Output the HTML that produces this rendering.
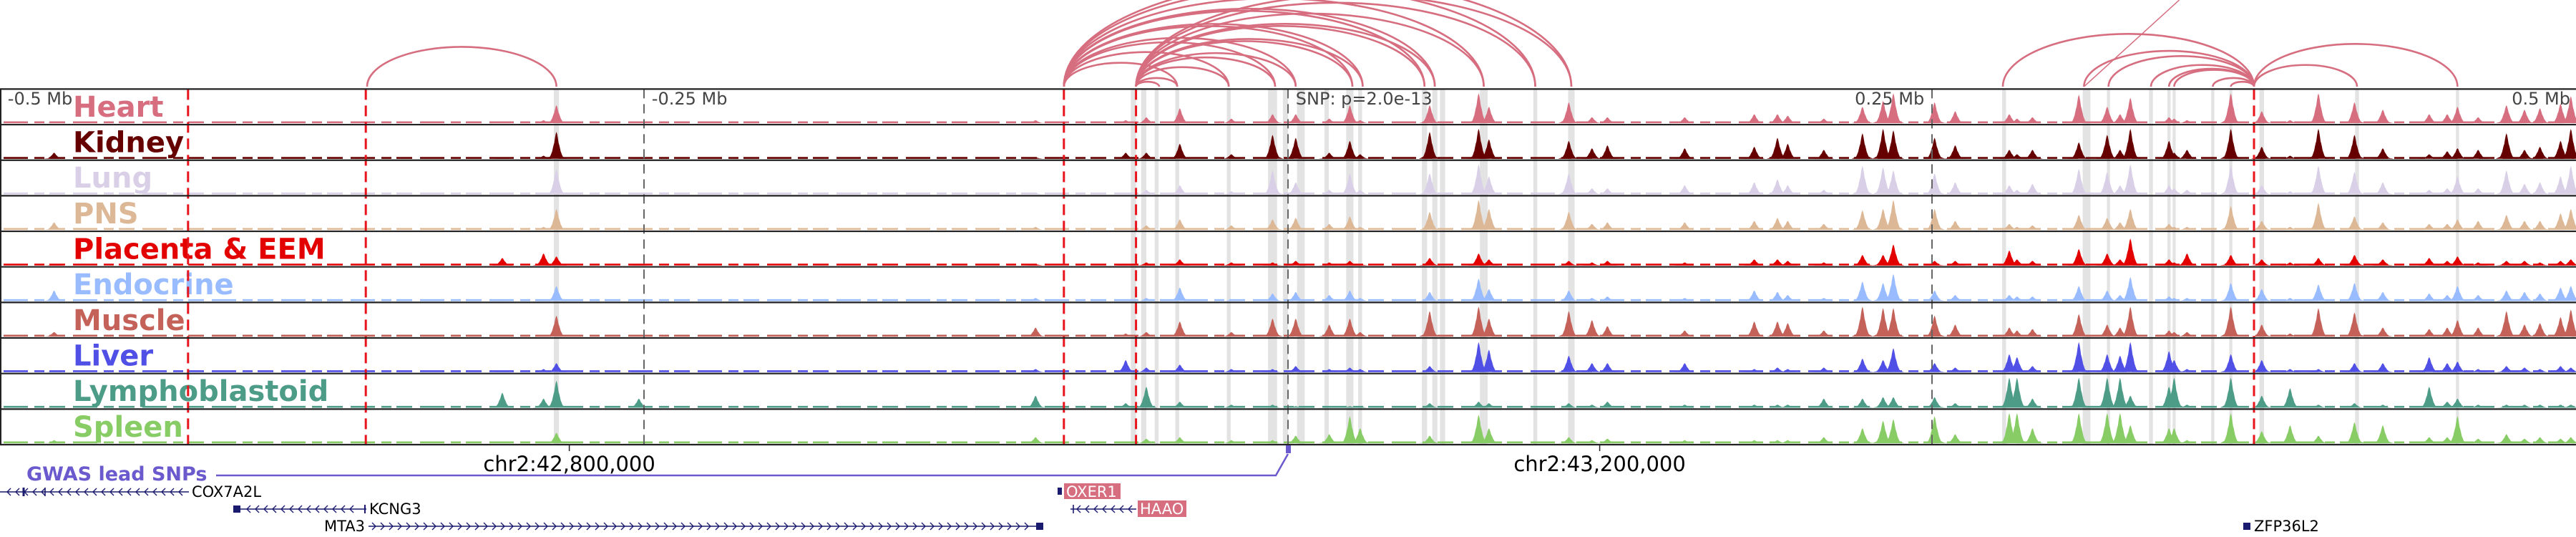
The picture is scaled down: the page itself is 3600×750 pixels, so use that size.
<!DOCTYPE html>
<html><head><meta charset="utf-8">
<style>
html,body{margin:0;padding:0;background:#fff;}
svg{display:block;}
text{font-family:"DejaVu Sans","Liberation Sans",sans-serif;}
</style></head>
<body>
<svg id="chart" width="3600" height="750" viewBox="0 0 3600 750" xmlns="http://www.w3.org/2000/svg">
<g id="bands"></g>
<g id="signals"></g>
<g id="labels"></g>
<g id="vlines"></g>
<g id="borders"></g>
<g id="arcs"></g>
<g id="bottom"></g>
</svg>
<script>
// ---- data ----
const tissues = ["Heart","Kidney","Lung","PNS","Placenta & EEM","Endocrine","Muscle","Liver","Lymphoblastoid","Spleen"];
const tissueColors = ["#d66e80","#660000","#d9d0e8","#ddb896","#e30000","#99bbff","#c4625a","#5050e6","#4d9c88","#88cc66"];
const peakKb = [-479,-305,-289,-284,-252,-98,-63,-55,-42,-22,-6,3,16,24,28,55,74,78,109,118,124,154,181,190,194,208,223,231,235,251,259,280,283,289,307,318,323,327,342,344,349,366,378,389,400,414,425,443,450,454,462,473,480,486,494,498];
const heart = [.05,.05,.1,.6,.05,.1,.1,.2,.5,.15,.3,.3,.15,.6,.1,.6,1,.55,.7,.2,.2,.2,.3,.3,.25,.15,.55,.75,1,.7,.4,.3,.15,.2,.95,.55,.3,.85,.2,.15,.1,1,.4,.1,1,.7,.45,.3,.3,.55,.2,.6,.45,.5,.65,.9];
const kidney = [.2,.05,.1,.9,.05,.05,.2,.2,.5,.15,.8,.7,.2,.6,.15,.9,1,.65,.6,.35,.45,.35,.4,.7,.5,.3,.85,1,.95,.7,.45,.3,.15,.3,.55,.8,.3,1,.6,.2,.3,1,.4,.1,1,.8,.35,.15,.25,.35,.3,.85,.3,.4,.6,1];
const lung = [.05,.02,.05,.85,.02,.05,.05,.15,.3,.1,.8,.4,.15,.7,.15,.7,1,.6,.7,.2,.2,.3,.4,.5,.3,.15,.95,.9,.8,.7,.4,.3,.15,.35,.85,.75,.3,1,.3,.2,.15,.95,.3,.1,.95,.75,.4,.15,.2,.6,.2,.8,.35,.4,.6,.95];
const pns = [.25,.05,.1,.7,.05,.1,.05,.15,.35,.15,.35,.4,.2,.45,.1,.6,1,.7,.6,.2,.25,.25,.3,.4,.3,.2,.65,.7,1,.7,.3,.2,.1,.15,.5,.4,.25,.7,.2,.1,.1,.8,.3,.1,.9,.45,.25,.2,.2,.35,.3,.5,.3,.3,.55,.7];
const placenta = [.05,.25,.4,.3,.05,.05,.05,.1,.2,.1,.1,.15,.1,.15,.05,.25,.4,.2,.15,.1,.15,.1,.2,.2,.15,.1,.35,.35,.7,.15,.15,.5,.2,.15,.55,.4,.2,.9,.2,.1,.4,.35,.2,.1,.25,.35,.2,.25,.15,.3,.1,.15,.15,.1,.15,.2];
const endocrine = [.35,.02,.05,.5,.05,.1,.05,.1,.45,.05,.25,.3,.2,.35,.1,.3,.75,.4,.35,.1,.15,.1,.35,.3,.2,.1,.65,.6,.9,.35,.2,.2,.15,.15,.5,.35,.2,.8,.15,.1,.1,.6,.4,.1,.55,.6,.3,.25,.2,.5,.2,.35,.3,.25,.45,.5];
const muscle = [.15,.02,.05,.7,.05,.3,.1,.15,.5,.15,.6,.6,.4,.6,.15,.85,1,.6,.85,.55,.35,.2,.5,.5,.45,.2,1,.95,.95,.7,.4,.3,.2,.25,.75,.4,.3,1,.2,.15,.15,1,.4,.1,.95,.8,.3,.25,.3,.55,.3,.85,.4,.45,.65,.9];
const liver = [.05,.05,.1,.3,.05,.1,.4,.15,.25,.1,.1,.2,.1,.15,.1,.2,1,.75,.55,.3,.3,.3,.1,.15,.1,.15,.45,.4,.8,.3,.15,.6,.5,.2,1,.6,.55,1,.7,.4,.1,.6,.4,.1,.1,.3,.3,.5,.3,.35,.1,.2,.15,.1,.2,.15];
const lympho = [.05,.5,.3,.9,.3,.4,.15,.7,.2,.1,.1,.05,.05,.05,.05,.15,.2,.15,.15,.1,.2,.1,.1,.1,.1,.3,.3,.35,.35,.35,.15,1,1,.3,1,1,1,.4,.7,1,.1,1,.4,.65,.1,.15,.1,.7,.2,.3,.1,.1,.1,.1,.1,.1];
const spleen = [.1,.02,.05,.35,.05,.2,.05,.15,.2,.1,.1,.25,.3,.9,.5,.25,.95,.5,.2,.1,.15,.1,.1,.1,.1,.2,.5,.75,.8,.9,.3,1,1,.5,1,1,1,.6,.5,.5,.1,1,.4,.6,.25,.7,.6,.2,.2,.9,.15,.3,.15,.2,.15,.2];
const bandKb = [-284,-60,-56,-51,-43,-23,-6,-1,5,15,24,28,53,57,60,76,96,110,278,310,318.5,335,342,344,359,366,378,415,454];
const bandWidthKb = [2,2,2,1.5,1.5,1.5,3.5,2,3,1.7,2.8,1.5,2,2,2,3,1.5,2.5,1.5,3,1.2,1.5,1.2,1.2,1.2,1.2,1.8,1.5,1.2];
const redLineKb = [-427,-358,-87,-59,375];
const greyLineKb = [-250,0,250];
const axisLabels = ["-0.5 Mb","-0.25 Mb","SNP: p=2.0e-13","0.25 Mb","0.5 Mb"];
const axisLabelKb = [-497,-247,3,247,497];
const arcStartKb = [-357.5,-87,-87,-87,-87,-87,-87,-87,-87,-87,-87,-87,-59,-59,-59,-59,-59,-59,-59,-59,-59,-59,-59,-59,375,375,375,375,375,375,375,375,375,375];
const arcEndKb = [-284,-43,-23,-5,3,25,29,53,57,76,96,110,-50,-43,-23,-5,3,25,29,53,57,76,96,110,277.5,309,318.5,335,342,344,359,366,415,454];
const chrTickKb = [-279,121];
const chrTickLabels = ["chr2:42,800,000","chr2:43,200,000"];

// ---- scales ----
const PX_PER_KB = 3.6, ORIGIN = 1800;
const xs = kb => ORIGIN + kb * PX_PER_KB;
const TOP = 124.4, TH = 49.66;
const series = [heart,kidney,lung,pns,placenta,endocrine,muscle,liver,lympho,spleen];
const NS = "http://www.w3.org/2000/svg";
function mk(tag, attrs, parent){const e=document.createElementNS(NS,tag);for(const k in attrs)e.setAttribute(k,attrs[k]);parent.appendChild(e);return e;}

// bands
const gB = document.getElementById('bands');
bandKb.forEach((kb,i)=>{
  const w = bandWidthKb[i]*PX_PER_KB;
  const r = mk('rect',{x:xs(kb)-w/2,y:TOP,width:w,height:TH*10,fill:'#e3e3e3'},gB);
  
  
});

// signals
const gS = document.getElementById('signals');
const HW = 15;
series.forEach((vals,t)=>{
  const base = TOP + (t+1)*TH - 2;
  const g = mk('g',{fill:tissueColors[t]},gS);
  
  
  const bl = mk('line',{x1:5,x2:3598,y1:base-1.2,y2:base-1.2,stroke:tissueColors[t],'stroke-width':2.6,'stroke-dasharray':'34 9 14 7 22 11'},g);
  
  
  peakKb.forEach((kb,i)=>{
    const v = vals[i]||0; if(v<=0) return;
    const cx = xs(kb), h = v*45;
    let pts = [];
    for(let dx=-HW; dx<=HW; dx+=1){
      const a = Math.abs(dx)/HW;
      const f = Math.max(0, 0.82*Math.pow(Math.max(0,1-a*1.6),1.6) + 0.18*(1-a)) * (dx%3===0?0.93:1);
      pts.push((cx+dx).toFixed(1)+','+(base - h*f).toFixed(1));
    }
    pts.push((cx+HW)+','+base); pts.unshift((cx-HW)+','+base);
    const p = mk('polygon',{points:pts.join(' ')},g);
    
    
  });
});

// labels
const gL = document.getElementById('labels');
tissues.forEach((n,t)=>{
  const tx = mk('text',{x:102,y:TOP+t*TH+38.5,'font-size':40,'font-weight':'bold',fill:tissueColors[t]},gL);
  tx.textContent = n;
  
  
});

// vertical lines
const gV = document.getElementById('vlines');
greyLineKb.forEach(kb=>{
  const l = mk('line',{x1:xs(kb),x2:xs(kb),y1:TOP,y2:TOP+TH*10,stroke:'#666','stroke-width':2,'stroke-dasharray':'13 8'},gV);
  
  
});
redLineKb.forEach(kb=>{
  const l = mk('line',{x1:xs(kb),x2:xs(kb),y1:TOP,y2:TOP+TH*10,stroke:'#e8141c','stroke-width':3,'stroke-dasharray':'15 8'},gV);
  
  
});
axisLabels.forEach((s,i)=>{
  const x = xs(axisLabelKb[i]);
  const anchor = (i===3||i===4)?'end':'start';
  const tx = mk('text',{x: i===4?3592:x,y:146,'font-size':24,fill:'#444','text-anchor':anchor},gV);
  tx.textContent = s;
  
  
});

// borders
const gBo = document.getElementById('borders');
for(let t=0;t<=10;t++){
  const l = mk('line',{x1:0,x2:3600,y1:TOP+t*TH,y2:TOP+t*TH,stroke:'#222','stroke-width':2.2},gBo);
  
  
}
const lb = mk('line',{x1:1,x2:1,y1:TOP,y2:TOP+TH*10,stroke:'#222','stroke-width':2},gBo);



// arcs
const gA = document.getElementById('arcs');
const BASEY = 121;
arcStartKb.forEach((s,i)=>{
  const x1 = xs(s), x2 = xs(arcEndKb[i]);
  const a = Math.min(x1,x2), b = Math.max(x1,x2);
  const rx = (b-a)/2, ry = 0.21*(b-a);
  const p = mk('path',{d:`M${a} ${BASEY} A ${rx} ${ry} 0 0 1 ${b} ${BASEY}`,fill:'none',stroke:'#d66e80','stroke-width':2.6},gA);
  
  
});
const longArc = mk('line',{x1:xs(309),y1:BASEY,x2:xs(346),y2:0,stroke:'#d66e80','stroke-width':1.5},gA);



// bottom annotations
const gBt = document.getElementById('bottom');
chrTickKb.forEach((kb,i)=>{
  const x = xs(kb);
  const t = mk('line',{x1:x,x2:x,y1:621,y2:630,stroke:'#222','stroke-width':1.5},gBt);
  
  
  const tx = mk('text',{x:x,y:658,'font-size':29,fill:'#000','text-anchor':'middle'},gBt);
  tx.textContent = chrTickLabels[i];
  
  
});
</script>
<svg style="position:absolute;left:0;top:0" width="3600" height="750">
  <text x="37" y="671" font-size="27" font-weight="bold" fill="#6a5acd" font-family="DejaVu Sans, sans-serif">GWAS lead SNPs</text>
  <polyline points="302,664 1783,664 1800,634" fill="none" stroke="#6a5acd" stroke-width="2.5"/>
  <rect x="1797" y="622" width="7" height="11" fill="#6a5acd"/>
  <g id="genes" stroke="#1a1a6e" fill="none" stroke-width="1.6">
    <line x1="0" y1="687" x2="264" y2="687"/>
    <line x1="33" y1="681" x2="33" y2="693" stroke-width="3"/>
    <line x1="63" y1="681" x2="63" y2="693"/>
    <line x1="330" y1="711" x2="512" y2="711"/>
    <line x1="510" y1="705" x2="510" y2="717" stroke-width="2"/>
    <line x1="515" y1="735" x2="1452" y2="735"/>
    <line x1="1496" y1="711" x2="1588" y2="711"/>
    <line x1="1500" y1="705" x2="1500" y2="717"/>
  </g>
  <rect x="326" y="706" width="10" height="10" fill="#1a1a6e"/>
  <rect x="1448" y="730" width="10" height="10" fill="#1a1a6e"/>
  <rect x="1478" y="681" width="6" height="10" fill="#1a1a6e"/>
  <rect x="3135" y="730" width="10" height="10" fill="#1a1a6e"/>
  <g font-family="DejaVu Sans, sans-serif" font-size="21">
    <text x="268" y="694" fill="#000">COX7A2L</text>
    <text x="516" y="718" fill="#000">KCNG3</text>
    <text x="510" y="742" fill="#000" text-anchor="end">MTA3</text>
    <rect x="1487" y="675" width="79" height="22" fill="#d66e80"/>
    <text x="1490" y="694" fill="#fff">OXER1</text>
    <rect x="1590" y="699" width="68" height="23" fill="#d66e80"/>
    <text x="1593" y="718" fill="#fff">HAAO</text>
    <text x="3150" y="742" fill="#000">ZFP36L2</text>
  </g>
  <g id="chevrons" stroke="#1a1a6e" fill="none" stroke-width="1.4"></g>
</svg>
<script>
(function(){
  const NS="http://www.w3.org/2000/svg";
  const g=document.getElementById('chevrons');
  function chev(x0,x1,y,dir,step){
    for(let x=x0;x<=x1;x+=step){
      const p=document.createElementNS(NS,'polyline');
      const d=dir*5;
      p.setAttribute('points',`${x+d},${y-5} ${x},${y} ${x+d},${y+5}`);
      
      
      g.appendChild(p);
    }
  }
  chev(10,255,687,1,12);
  chev(345,500,711,1,12);
  chev(525,1440,735,-1,12);
  chev(1505,1585,711,1,12);
})();
</script>
</body></html>
